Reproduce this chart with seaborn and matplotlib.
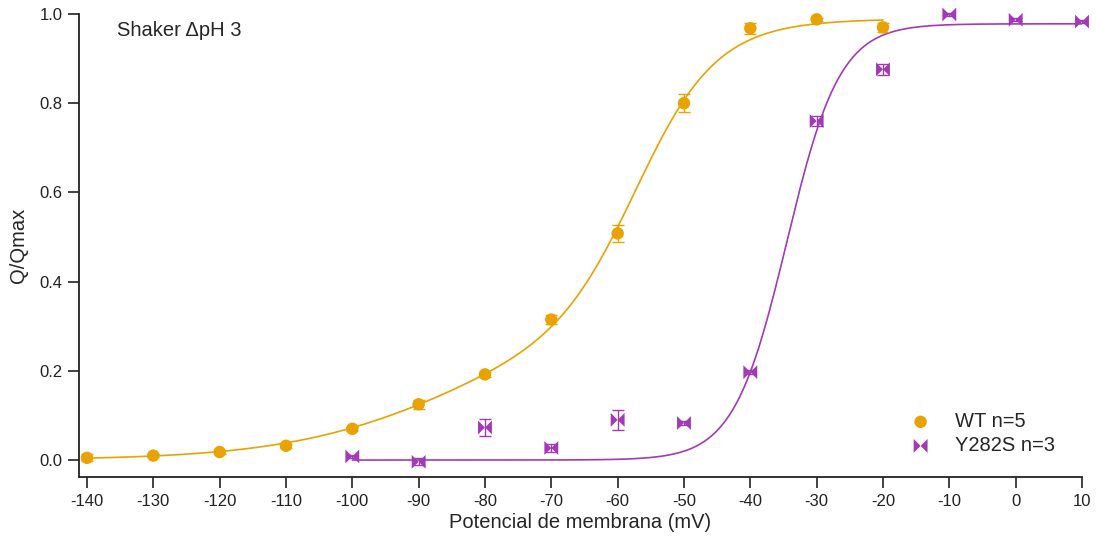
import numpy as np
import pandas as pd
import matplotlib
matplotlib.use("Agg")
import matplotlib.pyplot as plt
from matplotlib.path import Path
import seaborn as sns

# ---- data ----
wt_v = [-140, -130, -120, -110, -100, -90, -80, -70, -60, -50, -40, -30, -20]
wt_q = [0.005, 0.010, 0.018, 0.032, 0.070, 0.125, 0.192, 0.315, 0.508, 0.800, 0.968, 0.988, 0.970]
wt_err = [0.008, 0.004, 0.005, 0.004, 0.005, 0.010, 0.006, 0.010, 0.020, 0.020, 0.012, 0.004, 0.010]

mut_v = [-100, -90, -80, -70, -60, -50, -40, -30, -20, -10, 0, 10]
mut_q = [0.008, -0.004, 0.073, 0.027, 0.090, 0.083, 0.197, 0.760, 0.876, 0.999, 0.987, 0.983]
mut_err = [0.004, 0.008, 0.018, 0.010, 0.022, 0.005, 0.005, 0.012, 0.012, 0.003, 0.003, 0.003]

# Boltzmann fit parameters
wt_fit = dict(A1=0.69, V1=-57.0, k1=6.0, A2=0.30, V2=-85.0, k2=13.0, vmin=-140, vmax=-20)
mut_fit = dict(A=0.978, V=-34.5, k=4.0, vmin=-100, vmax=10)

labels = ["WT n=5", "Y282S n=3"]
c_wt = "#E8A202"
c_mut = "#A23AB5"

sns.set_theme(style="ticks")
plt.rcParams['font.family'] = ['Liberation Sans', 'DejaVu Sans']
plt.rcParams['axes.unicode_minus'] = False

fig = plt.figure(figsize=(10.96, 5.39), dpi=100)
ax = fig.add_axes([79/1096, 62/539, (1082-79)/1096, (477-14)/539])

# fitted curves
vw = np.linspace(wt_fit['vmin'], wt_fit['vmax'], 400)
qw = (wt_fit['A1'] / (1 + np.exp((wt_fit['V1'] - vw) / wt_fit['k1']))
      + wt_fit['A2'] / (1 + np.exp((wt_fit['V2'] - vw) / wt_fit['k2'])))
vm = np.linspace(mut_fit['vmin'], mut_fit['vmax'], 400)
qm = mut_fit['A'] / (1 + np.exp((mut_fit['V'] - vm) / mut_fit['k']))
sns.lineplot(x=vw, y=qw, ax=ax, color=c_wt, lw=1.2, legend=False)
sns.lineplot(x=vm, y=qm, ax=ax, color=c_mut, lw=1.2, legend=False)

# bowtie marker
bowtie = Path([(-1, 1), (0, 0), (-1, -1), (-1, 1), (1, 1), (0, 0), (1, -1), (1, 1)],
              [Path.MOVETO, Path.LINETO, Path.LINETO, Path.CLOSEPOLY,
               Path.MOVETO, Path.LINETO, Path.LINETO, Path.CLOSEPOLY])

ax.errorbar(wt_v, wt_q, yerr=wt_err, fmt='none', ecolor=c_wt, elinewidth=1.0,
            capsize=4, capthick=1.0, zorder=3, clip_on=False)
ax.errorbar(mut_v, mut_q, yerr=mut_err, fmt='none', ecolor=c_mut, elinewidth=1.0,
            capsize=4, capthick=1.0, zorder=3, clip_on=False)

df_wt = pd.DataFrame({'v': wt_v, 'q': wt_q})
df_mut = pd.DataFrame({'v': mut_v, 'q': mut_q})
sns.scatterplot(data=df_wt, x='v', y='q', marker='o', color=c_wt, s=80,
                edgecolor='none', linewidth=0, ax=ax, zorder=4, clip_on=False, label=labels[0])
sns.scatterplot(data=df_mut, x='v', y='q', marker=bowtie, color=c_mut, s=100,
                edgecolor='none', linewidth=0, ax=ax, zorder=4, clip_on=False, label=labels[1])

ax.set_xlim(-141.2, 10)
ax.set_ylim(-0.038, 1.0)
ax.set_xticks(np.arange(-140, 11, 10))
ax.set_yticks([0.0, 0.2, 0.4, 0.6, 0.8, 1.0])
ax.set_yticklabels(['0.0', '0.2', '0.4', '0.6', '0.8', '1.0'])
ax.tick_params(direction='out', length=8, width=1.2, labelsize=12, colors='#222222', pad=4)
for s in ['top', 'right']:
    ax.spines[s].set_visible(False)
for s in ['left', 'bottom']:
    ax.spines[s].set_linewidth(1.3)
    ax.spines[s].set_color('#222222')

ax.set_xlabel("Potencial de membrana (mV)", fontsize=14.5, labelpad=3)
ax.set_ylabel("Q/Qmax", fontsize=14.5, labelpad=8)
ax.text(-135.5, 0.962, "Shaker ΔpH 3", fontsize=14.5, ha='left', va='center')

leg = ax.legend(loc='lower right', bbox_to_anchor=(0.991, 0.008), frameon=False, fontsize=14.5,
                handletextpad=0.7, labelspacing=0.25, markerscale=1.0)

fig.savefig("out.png", dpi=100)
